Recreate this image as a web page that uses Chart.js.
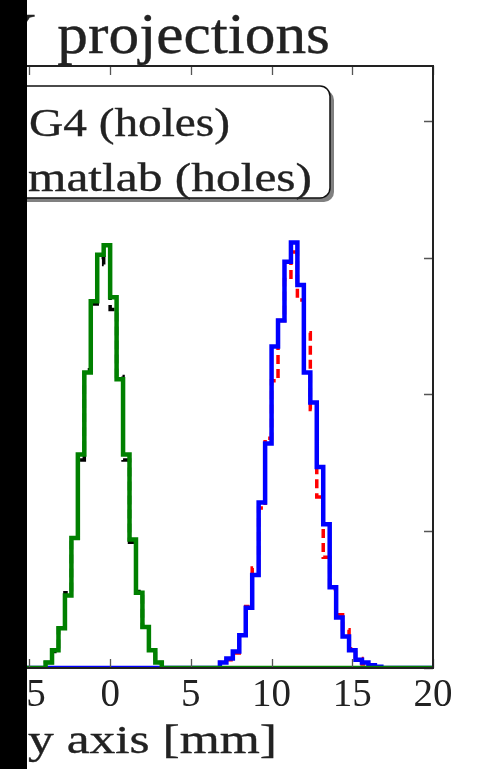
<!DOCTYPE html>
<html>
<head>
<meta charset="utf-8">
<script src="https://cdn.jsdelivr.net/npm/chart.js@4.4.1/dist/chart.umd.min.js"></script>
<style>
  html, body { margin:0; padding:0; background:#fff; }
  body { width:480px; height:769px; position:relative; overflow:hidden; }
  #cv { position:absolute; left:-200px; top:0; }
  #ov { position:absolute; left:0; top:0; pointer-events:none; }
  #strip { position:absolute; left:0; top:0; width:27px; height:769px; background:#000; }
  text { stroke:#222; stroke-width:0.35; }
</style>
</head>
<body>
<canvas id="cv" width="680" height="769"></canvas>
<svg id="ov" width="480" height="769" xmlns="http://www.w3.org/2000/svg">
  <text y="53" font-family="Liberation Serif" font-size="57" fill="#222"><tspan x="-56" textLength="92" lengthAdjust="spacingAndGlyphs">XY</tspan><tspan x="42" textLength="288" lengthAdjust="spacingAndGlyphs"> projections</tspan></text>
  <rect x="-56" y="90" width="390" height="112" rx="10" ry="10" fill="#555" opacity="0.75" style="stroke:none"/>
  <rect x="-60" y="86" width="390" height="112" rx="10" ry="10" fill="#fff" stroke="#111" stroke-width="1.5"/>
  <text x="29" y="136" font-family="Liberation Serif" font-size="39" fill="#222" textLength="201" lengthAdjust="spacingAndGlyphs">G4 (holes)</text>
  <text x="28" y="191" font-family="Liberation Serif" font-size="39" fill="#222" textLength="284" lengthAdjust="spacingAndGlyphs">matlab (holes)</text>
  <text x="28" y="753" font-family="Liberation Serif" font-size="40" fill="#222" textLength="249" lengthAdjust="spacingAndGlyphs">y axis [mm]</text>
</svg>
<div id="strip"></div>
<script>
// ---- data ----
const binWidth = 0.4;            // mm
const histRange = [-15, 20];     // histogram range (mm)
const xTicks = [-15, -10, -5, 0, 5, 10, 15, 20];
const yTicks = [0, 100, 200, 300, 400];

const centralStart = -4.0;       // first non-empty bin edge, peak near 0
const g4CentralCounts     = [4, 12, 29, 55, 95, 152, 218, 266, 300, 295, 262, 213, 152, 92, 56, 30, 13, 4];   // black dashed
const matlabCentralCounts = [4, 13, 29, 53, 95, 156, 216, 268, 302, 309, 271, 211, 156, 94, 55, 30, 13, 4];   // green solid

const shiftedStart = 6.8;        // first non-empty bin edge, peak near 11.4
const g4ShiftedCounts     = [4, 6, 11, 24, 45, 73, 117, 168, 210, 254, 284, 304, 269, 245, 189, 125, 81, 58, 39, 28, 14, 7, 3, 2, 1]; // red dashed
const matlabShiftedCounts = [4, 7, 12, 24, 44, 68, 121, 164, 235, 254, 297, 311, 280, 216, 194, 147, 105, 59, 37, 23, 13, 6, 4, 2, 1]; // blue solid

// build step outline points from bin counts
function stepPoints(start, counts) {
  const pts = [{x: histRange[0], y: 0}];
  counts.forEach((c, i) => pts.push({x: start + i * binWidth, y: c}));
  pts.push({x: start + counts.length * binWidth, y: 0});
  pts.push({x: histRange[1], y: 0});
  return pts;
}

const frameTicks = {
  id: 'frameTicks',
  afterDatasetsDraw(chart) {
    const {ctx, chartArea: a, scales} = chart;
    ctx.save();
    ctx.strokeStyle = '#555';
    ctx.lineWidth = 1.3;
    const L = 9;
    xTicks.forEach(v => {
      const px = Math.round(scales.x.getPixelForValue(v)) + 0.5;
      ctx.beginPath();
      ctx.moveTo(px, a.bottom); ctx.lineTo(px, a.bottom - L);
      ctx.moveTo(px, a.top); ctx.lineTo(px, a.top + L);
      ctx.stroke();
    });
    yTicks.forEach(v => {
      const py = Math.round(scales.y.getPixelForValue(v)) + 0.5;
      ctx.beginPath();
      ctx.moveTo(a.left, py); ctx.lineTo(a.left + L, py);
      ctx.moveTo(a.right, py); ctx.lineTo(a.right - L, py);
      ctx.stroke();
    });
    ctx.strokeStyle = '#222';
    ctx.lineWidth = 2;
    ctx.strokeRect(a.left, a.top, a.right - a.left, a.bottom - a.top);
    ctx.restore();
  }
};

new Chart(document.getElementById('cv'), {
  type: 'line',
  data: {
    datasets: [
      {label: 'G4 (holes)', data: stepPoints(centralStart, g4CentralCounts), borderColor: '#000000', borderDash: [9, 5], borderWidth: 3.5, stepped: true, pointRadius: 0, fill: false, order: 4},
      {label: 'matlab (holes)', data: stepPoints(centralStart, matlabCentralCounts), borderColor: '#008000', borderWidth: 4.5, stepped: true, pointRadius: 0, fill: false, order: 1},
      {label: 'G4 (holes) shifted', data: stepPoints(shiftedStart, g4ShiftedCounts), borderColor: '#ff0000', borderDash: [9, 5], borderWidth: 3.5, stepped: true, pointRadius: 0, fill: false, order: 3},
      {label: 'matlab (holes) shifted', data: stepPoints(shiftedStart, matlabShiftedCounts), borderColor: '#0000ff', borderWidth: 4.5, stepped: true, pointRadius: 0, fill: false, order: 2}
    ]
  },
  options: {
    responsive: false,
    animation: false,
    devicePixelRatio: 1,
    layout: {padding: {left: 68, right: 47, top: 66, bottom: 0}},
    plugins: {legend: {display: false}, tooltip: {enabled: false}, title: {display: false}},
    scales: {
      x: {
        type: 'linear', min: histRange[0], max: histRange[1],
        afterFit(s) { s.height = 101; },
        grid: {display: false, drawTicks: false},
        border: {display: false},
        ticks: {stepSize: 5, padding: 4, color: '#222', font: {family: 'Liberation Serif', size: 39}, maxRotation: 0, autoSkip: false}
      },
      y: {
        display: false, min: 0, max: 440,
        ticks: {stepSize: 100}
      }
    }
  },
  plugins: [frameTicks]
});
</script>
</body>
</html>
